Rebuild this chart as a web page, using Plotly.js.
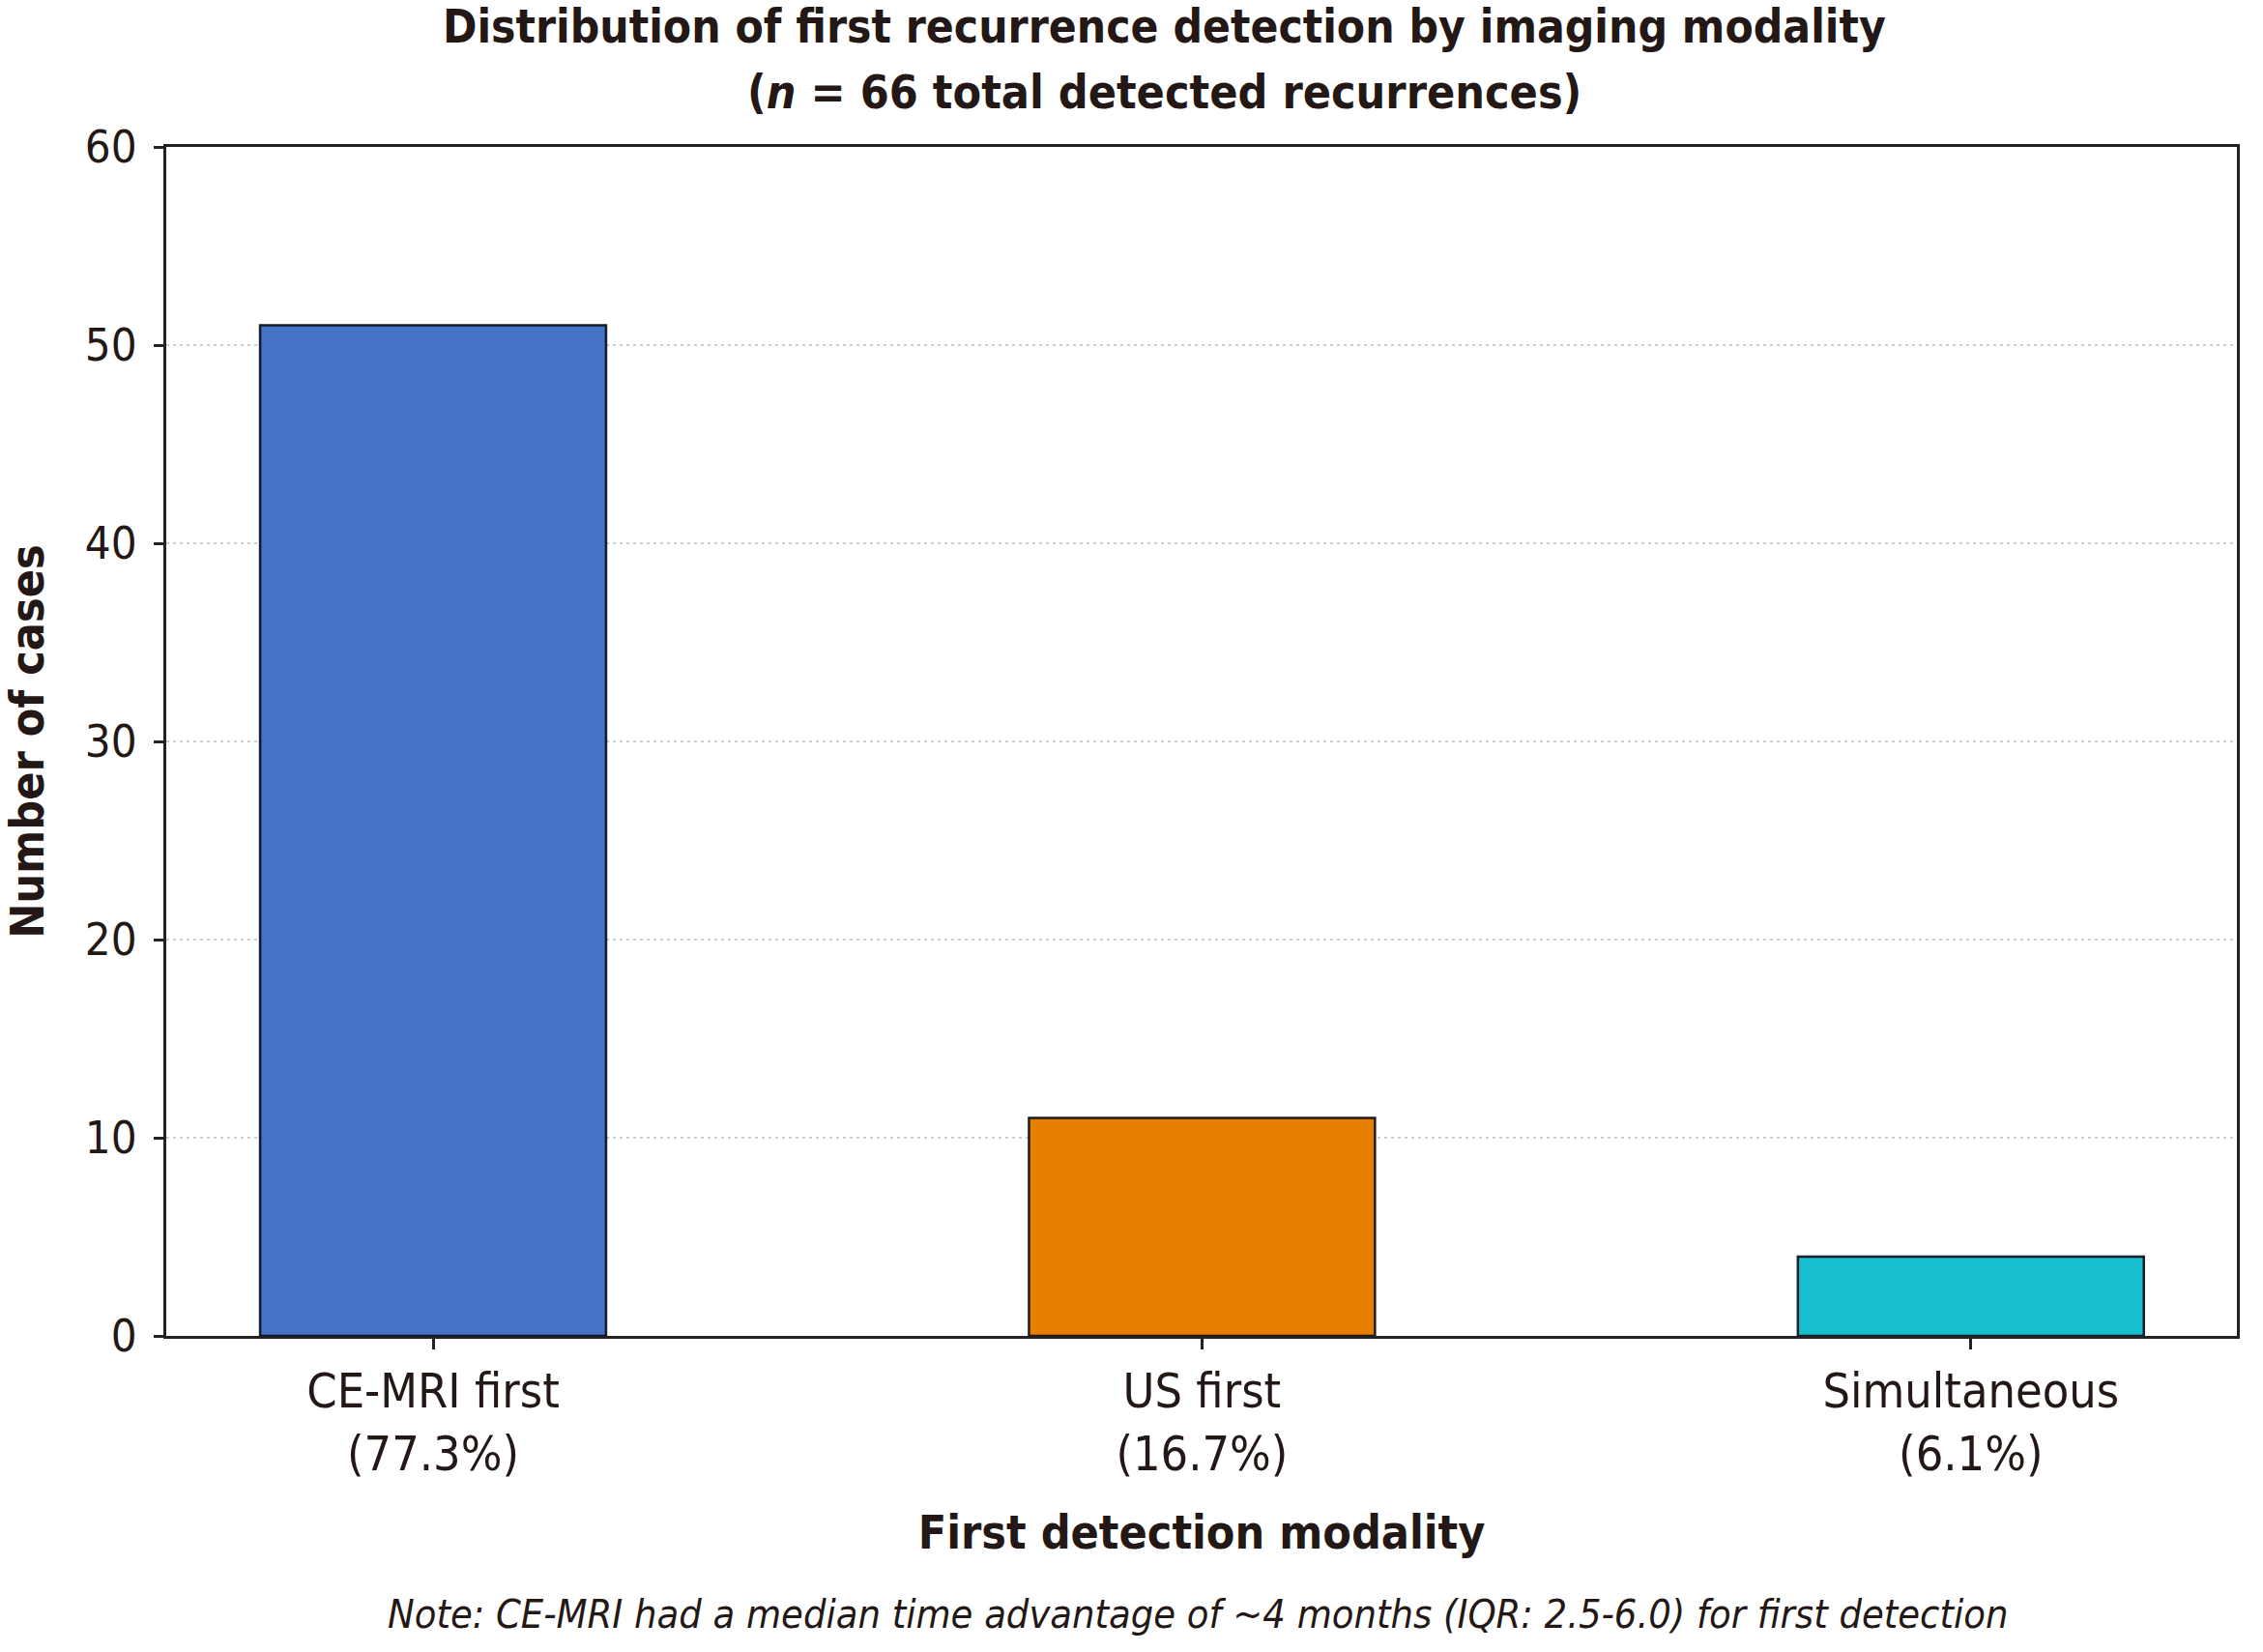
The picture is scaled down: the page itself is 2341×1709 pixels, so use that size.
<!DOCTYPE html>
<html>
<head>
<meta charset="utf-8">
<script src="https://cdn.plot.ly/plotly-3.0.1.min.js"></script>
<style>
html, body { margin: 0; padding: 0; background: #ffffff; }
#chart { width: 2341px; height: 1709px; }
</style>
</head>
<body>
<div id="chart"></div>
<script>
// ---- data ----
const categories = ['CE-MRI first', 'US first', 'Simultaneous'];
const percentLabels = ['77.3%', '16.7%', '6.1%'];
const caseCounts = [51, 11, 4];
const barColors = ['#4472C4', '#E67E00', '#17BECF'];
const yTickValues = [0, 10, 20, 30, 40, 50, 60];
const titleLine1 = 'Distribution of first recurrence detection by imaging modality';
const titleLine2 = '(<i>n</i> = 66 total detected recurrences)';
const xAxisTitle = 'First detection modality';
const yAxisTitle = 'Number of cases';
const noteText = '<i>Note: CE-MRI had a median time advantage of ~4 months (IQR: 2.5-6.0) for first detection</i>';

const FONT = '"DejaVu Sans Condensed", "DejaVu Sans", Verdana, sans-serif';
const TXT = '#231815';

const tickText = categories.map((c, i) => c + '<br>(' + percentLabels[i] + ')');

const trace = {
  type: 'bar',
  x: categories,
  y: caseCounts,
  width: 0.45,
  marker: {
    color: barColors,
    line: { color: 'rgba(10,10,20,0.9)', width: 2.5 }
  },
  hoverinfo: 'x+y'
};

const layout = {
  width: 2341,
  height: 1709,
  margin: { l: 172, r: 27, t: 152, b: 327 },
  paper_bgcolor: '#ffffff',
  plot_bgcolor: '#ffffff',
  showlegend: false,
  font: { family: FONT, color: TXT, size: 50 },
  xaxis: {
    type: 'category',
    range: [-0.347, 2.346],
    tickmode: 'array',
    tickvals: categories,
    ticktext: tickText,
    ticks: 'outside',
    ticklen: 11,
    tickwidth: 2.5,
    tickcolor: '#222',
    tickfont: { family: FONT, size: 50, color: TXT },
    showline: true,
    linecolor: '#222',
    linewidth: 3,
    mirror: true,
    showgrid: false,
    zeroline: false,
    title: { text: '<b>' + xAxisTitle + '</b>', font: { family: FONT, size: 48, color: TXT }, standoff: 37 }
  },
  yaxis: {
    range: [0, 60],
    tickmode: 'array',
    tickvals: yTickValues,
    ticks: 'outside',
    ticklen: 10,
    tickwidth: 3,
    tickcolor: '#222',
    tickfont: { family: FONT, size: 47, color: TXT },
    ticklabelstandoff: 8,
    showline: true,
    linecolor: '#222',
    linewidth: 3,
    mirror: true,
    showgrid: true,
    gridcolor: '#cccccc',
    gridwidth: 2,
    griddash: '3px,4px',
    zeroline: false,
    title: { text: '<b>' + yAxisTitle + '</b>', font: { family: FONT, size: 48, color: TXT }, standoff: 46 }
  },
  annotations: [
    {
      xref: 'paper', yref: 'paper', x: 0.482, y: 1.101,
      xanchor: 'center', yanchor: 'middle', showarrow: false,
      text: '<b>' + titleLine1 + '</b>',
      font: { family: FONT, size: 47.5, color: TXT }
    },
    {
      xref: 'paper', yref: 'paper', x: 0.482, y: 1.046,
      xanchor: 'center', yanchor: 'middle', showarrow: false,
      text: '<b>' + titleLine2 + '</b>',
      font: { family: FONT, size: 48, color: TXT }
    },
    {
      xref: 'paper', yref: 'paper', x: 0.498, y: -0.234,
      xanchor: 'center', yanchor: 'middle', showarrow: false,
      text: noteText,
      font: { family: FONT, size: 41.2, color: TXT }
    }
  ]
};

Plotly.newPlot('chart', [trace], layout, { displayModeBar: false, responsive: false });
</script>
</body>
</html>
